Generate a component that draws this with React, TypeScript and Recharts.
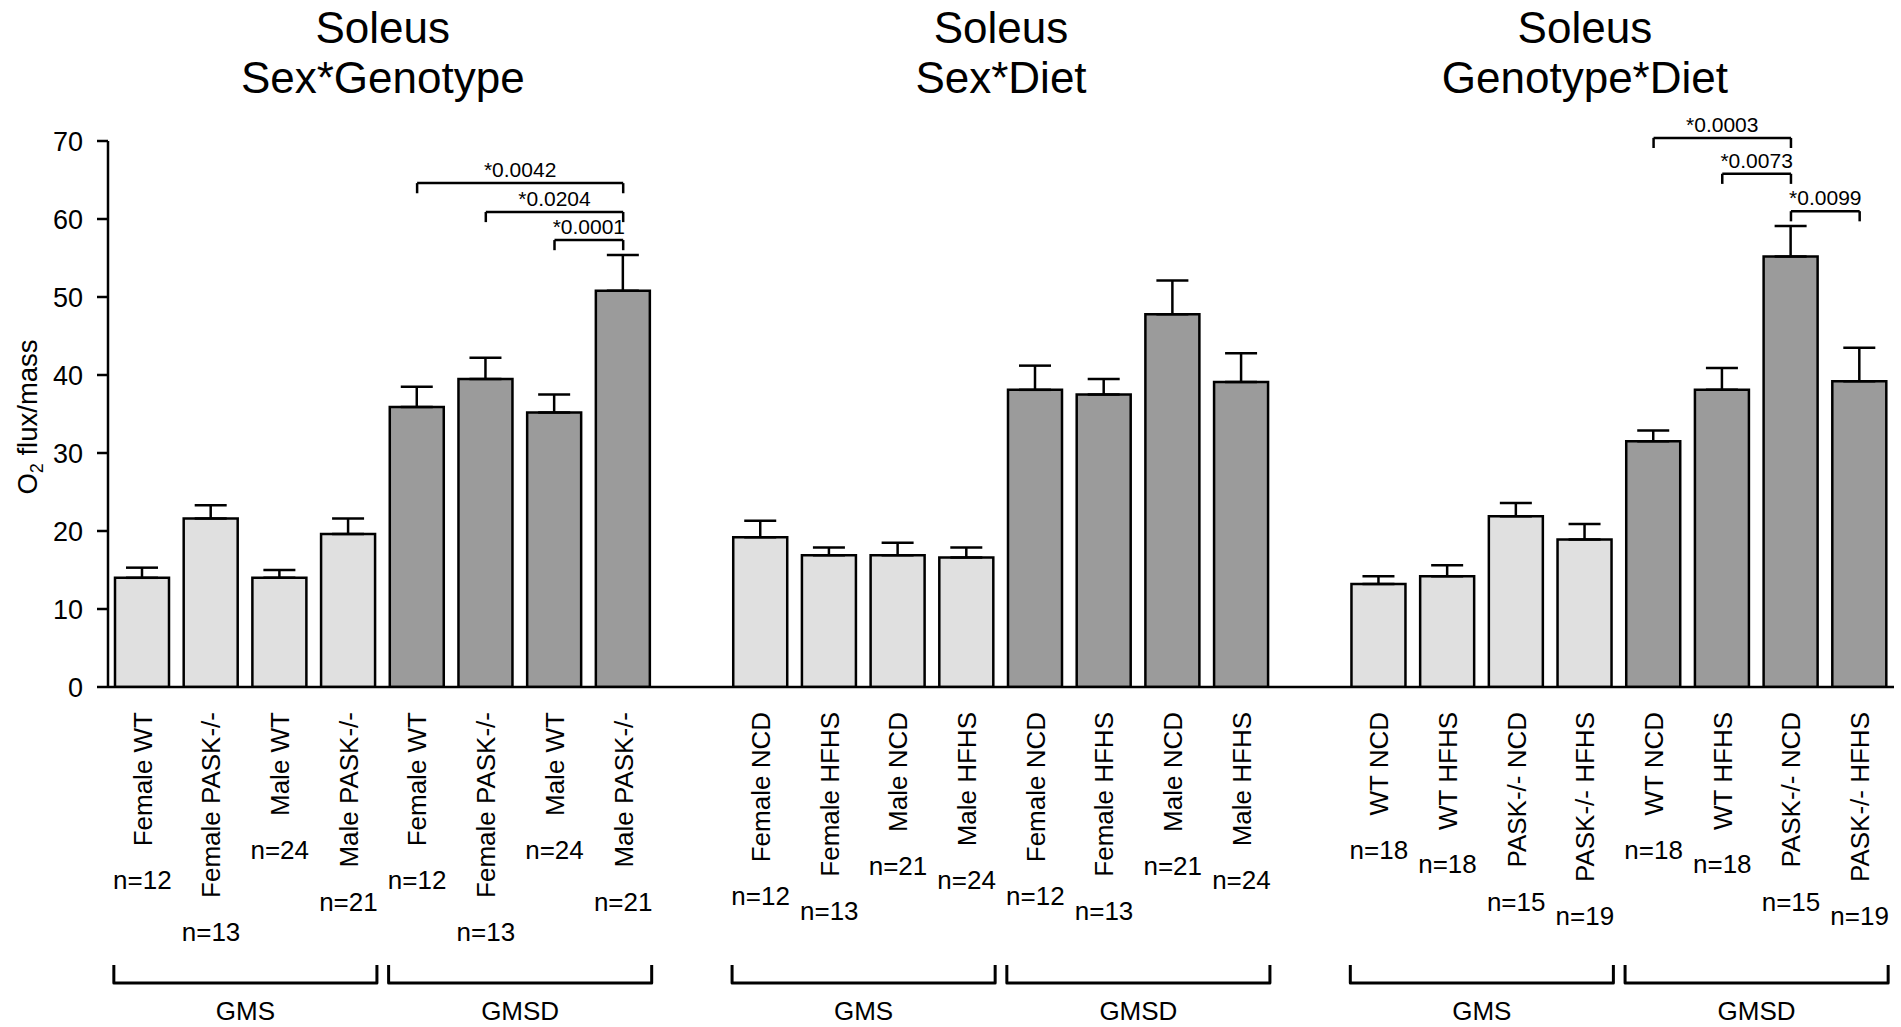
import React from "react";
import { BarChart, Bar, XAxis, YAxis, ErrorBar, Cell, ReferenceLine } from "recharts";

// ---- data ----
const PANEL_TITLES = [
  ["Soleus", "Sex*Genotype"],
  ["Soleus", "Sex*Diet"],
  ["Soleus", "Genotype*Diet"],
];
const GROUPS = ["GMS", "GMSD"];

const P1_LABELS = ["Female WT", "Female PASK-/-", "Male WT", "Male PASK-/-"];
const P1_MEANS = [14.0, 21.6, 14.0, 19.6, 35.9, 39.5, 35.2, 50.8];
const P1_SEM = [1.3, 1.7, 1.0, 2.0, 2.6, 2.7, 2.3, 4.6];
const P1_N = [12, 13, 24, 21, 12, 13, 24, 21];

const P2_LABELS = ["Female NCD", "Female HFHS", "Male NCD", "Male HFHS"];
const P2_MEANS = [19.2, 16.9, 16.9, 16.6, 38.1, 37.5, 47.8, 39.1];
const P2_SEM = [2.1, 1.0, 1.6, 1.3, 3.1, 2.0, 4.3, 3.7];
const P2_N = [12, 13, 21, 24, 12, 13, 21, 24];

const P3_LABELS = ["WT NCD", "WT HFHS", "PASK-/- NCD", "PASK-/- HFHS"];
const P3_MEANS = [13.2, 14.2, 21.9, 18.9, 31.5, 38.1, 55.2, 39.2];
const P3_SEM = [1.0, 1.4, 1.7, 2.0, 1.4, 2.8, 3.9, 4.3];
const P3_N = [18, 18, 15, 19, 18, 18, 15, 19];

const Y_TICKS = [0, 10, 20, 30, 40, 50, 60, 70];

// significance brackets: panel, bar from, bar to, height, text
const SIG = [
  { panel: 0, from: 4, to: 7, y: 64.6, label: "*0.0042" },
  { panel: 0, from: 5, to: 7, y: 60.9, label: "*0.0204" },
  { panel: 0, from: 6, to: 7, y: 57.3, label: "*0.0001" },
  { panel: 2, from: 4, to: 6, y: 70.4, label: "*0.0003" },
  { panel: 2, from: 5, to: 6, y: 65.8, label: "*0.0073" },
  { panel: 2, from: 6, to: 7, y: 61.0, label: "*0.0099" },
];

// ---- layout ----
const W = 1901;
const H = 1027;
const M_TOP = 141;
const X_AXIS_H = 340;
const Y_AXIS_W = 108;
const M_RIGHT = 7;
const BAR_W = 54;
const LIGHT = "#e0e0e0";
const DARK = "#9b9b9b";
const FONT = '"Liberation Sans", Arial, Helvetica, sans-serif';

const panels = [
  { labels: P1_LABELS, means: P1_MEANS, sem: P1_SEM, n: P1_N },
  { labels: P2_LABELS, means: P2_MEANS, sem: P2_SEM, n: P2_N },
  { labels: P3_LABELS, means: P3_MEANS, sem: P3_SEM, n: P3_N },
];

const rowId = (p: number, j: number) => `p${p}-${j}`;

const rows: any[] = [];
panels.forEach((pn, p) => {
  if (p > 0) rows.push({ id: `gap${p}`, label: "", mean: null, err: null });
  pn.means.forEach((m, j) => {
    rows.push({
      id: rowId(p, j),
      label: pn.labels[j % 4],
      group: GROUPS[Math.floor(j / 4)],
      groupStart: j % 4 === 0,
      mean: m,
      err: [0, pn.sem[j]],
      n: pn.n[j],
    });
  });
});
const rowById: Record<string, any> = {};
rows.forEach((r) => (rowById[r.id] = r));

const BAND = (W - M_RIGHT - Y_AXIS_W) / rows.length;
const TITLE_SLOT = [3.5, 12.5, 21];

let measureCtx: CanvasRenderingContext2D | null = null;
function textWidth(s: string, size: number) {
  if (!measureCtx) measureCtx = document.createElement("canvas").getContext("2d");
  if (!measureCtx) return s.length * size * 0.55;
  measureCtx.font = `${size}px ${FONT}`;
  return measureCtx.measureText(s).width;
}

function CategoryTick(props: any) {
  const { x, y, payload } = props;
  const row = rowById[payload?.value];
  if (!row || !row.label) return null;
  const fs = 26;
  const top = y + 25;
  const len = textWidth(row.label, fs);
  let bracket = null;
  if (row.groupStart) {
    const x0 = x - BAR_W / 2 - 1.5;
    const x1 = x + 3 * BAND + BAR_W / 2 + 1.5;
    bracket = (
      <g>
        <path
          d={`M${x0},${y + 278} L${x0},${y + 296} L${x1},${y + 296} L${x1},${y + 278}`}
          fill="none"
          stroke="#000"
          strokeWidth={3}
          strokeLinejoin="round"
        />
        <text x={(x0 + x1) / 2} y={y + 333} textAnchor="middle" fontSize={fs} fill="#000">
          {row.group}
        </text>
      </g>
    );
  }
  return (
    <g>
      <text
        x={x}
        y={top}
        dy="0.36em"
        transform={`rotate(-90, ${x}, ${top})`}
        textAnchor="end"
        fontSize={fs}
        fill="#000"
      >
        {row.label}
      </text>
      <text x={x} y={top + len + 43} textAnchor="middle" fontSize={fs} fill="#000">
        n={row.n}
      </text>
      {bracket}
    </g>
  );
}

export default function App() {
  return (
    <div
      style={{
        position: "absolute",
        left: 0,
        top: 0,
        width: W,
        height: H,
        background: "#fff",
        fontFamily: FONT,
      }}
    >
      <BarChart
        width={W}
        height={H}
        data={rows}
        margin={{ top: M_TOP, right: M_RIGHT, bottom: 0, left: 0 }}
      >
        <XAxis
          dataKey="id"
          type="category"
          interval={0}
          height={X_AXIS_H}
          tickLine={false}
          tickSize={0}
          tickMargin={0}
          axisLine={{ stroke: "#000", strokeWidth: 2.5 }}
          tick={<CategoryTick />}
        />
        <YAxis
          type="number"
          domain={[0, 70]}
          ticks={Y_TICKS}
          allowDataOverflow
          width={Y_AXIS_W}
          tickSize={11}
          tickMargin={14}
          axisLine={{ stroke: "#000", strokeWidth: 2.5 }}
          tickLine={{ stroke: "#000", strokeWidth: 2.5 }}
          tick={{ fontSize: 27, fill: "#000" }}
        />
        <Bar dataKey="mean" barSize={BAR_W} stroke="#000" strokeWidth={2.5} isAnimationActive={false}>
          {rows.map((r) => (
            <Cell key={r.id} fill={r.group === "GMS" ? LIGHT : DARK} />
          ))}
          <ErrorBar dataKey="err" width={16} stroke="#000" strokeWidth={2.5} direction="y" isAnimationActive={false} />
        </Bar>
        {SIG.map((s, i) => {
          const a = rowId(s.panel, s.from);
          const b = rowId(s.panel, s.to);
          const line = { stroke: "#000", strokeWidth: 2.5, ifOverflow: "visible" as const };
          return (
            <React.Fragment key={i}>
              <ReferenceLine
                {...line}
                segment={[{ x: a, y: s.y }, { x: b, y: s.y }]}
                label={{ value: s.label, position: "top", offset: 6, fontSize: 21, fill: "#000" }}
              />
              <ReferenceLine {...line} segment={[{ x: a, y: s.y }, { x: a, y: s.y - 1.3 }]} />
              <ReferenceLine {...line} segment={[{ x: b, y: s.y }, { x: b, y: s.y - 1.3 }]} />
            </React.Fragment>
          );
        })}
      </BarChart>
      <svg
        width={W}
        height={H}
        style={{ position: "absolute", left: 0, top: 0, pointerEvents: "none" }}
      >
        {PANEL_TITLES.map((t, i) => {
          const cx = Y_AXIS_W + (TITLE_SLOT[i] + 0.5) * BAND;
          return (
            <g key={i}>
              <text x={cx} y={43} textAnchor="middle" fontSize={44} fill="#000">
                {t[0]}
              </text>
              <text x={cx} y={93} textAnchor="middle" fontSize={44} fill="#000">
                {t[1]}
              </text>
            </g>
          );
        })}
        <text
          x={37}
          y={417}
          transform="rotate(-90, 37, 417)"
          textAnchor="middle"
          fontSize={27.5}
          fill="#000"
        >
          O<tspan fontSize={18} dy={6}>2</tspan>
          <tspan dy={-6}> flux/mass</tspan>
        </text>
      </svg>
    </div>
  );
}
